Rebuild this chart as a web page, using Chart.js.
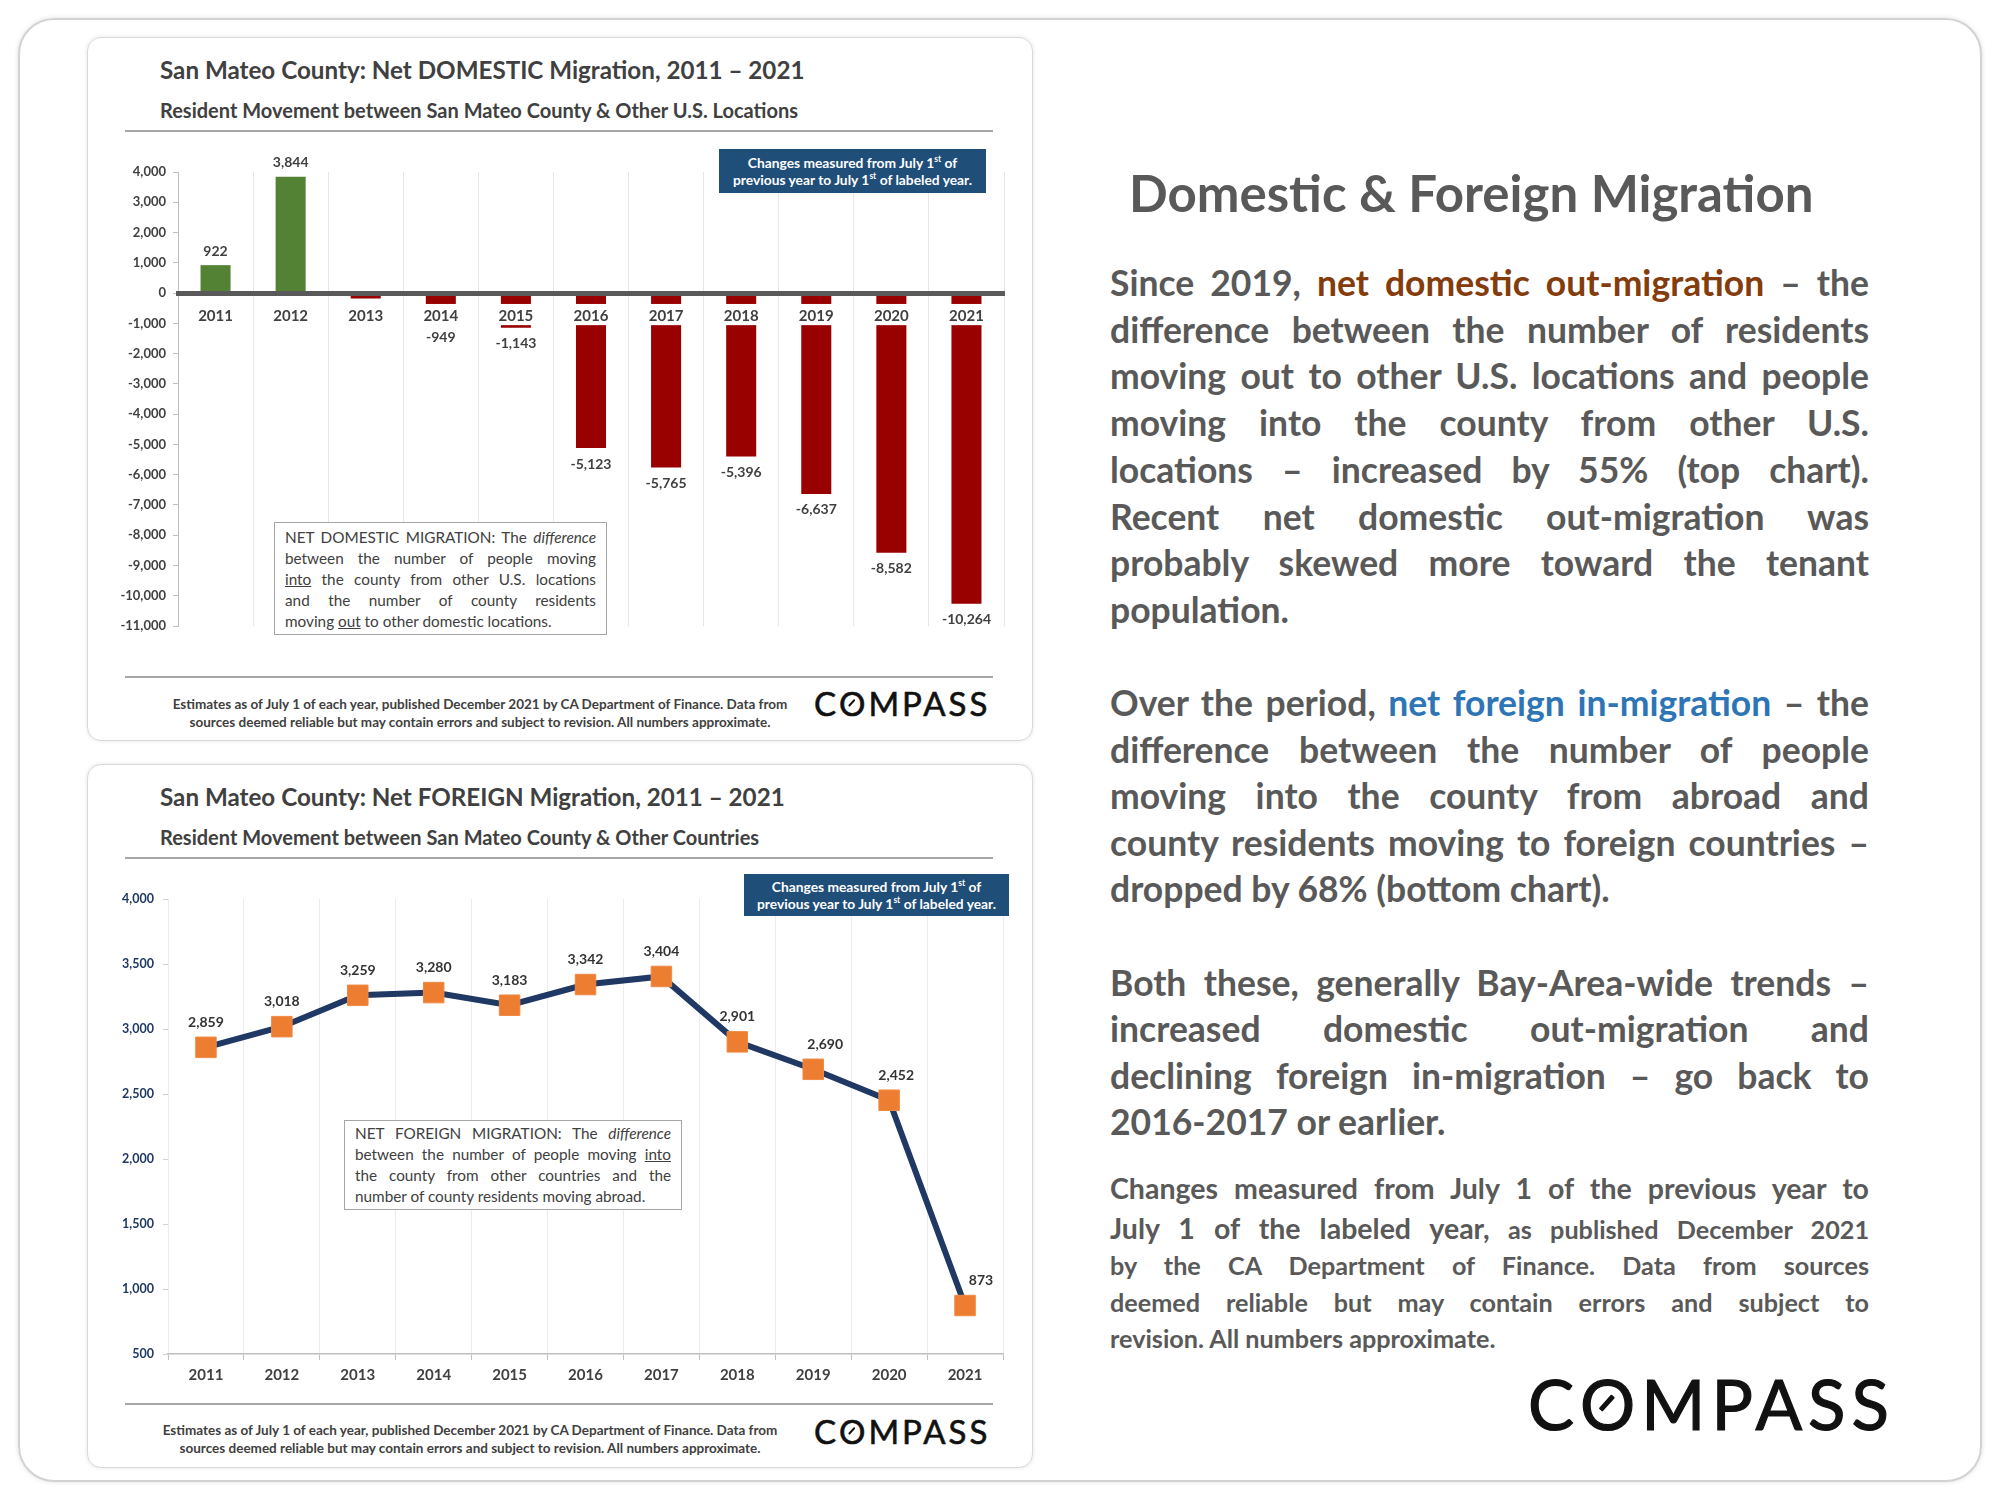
<!DOCTYPE html>
<html>
<head>
<meta charset="utf-8">
<title>San Mateo County: Domestic & Foreign Migration</title>
<script src="https://cdn.jsdelivr.net/npm/chart.js@4.4.1/dist/chart.umd.min.js"></script>
<style>
  body { margin: 0; background: #fff; font-family: Lato, "Open Sans", sans-serif; }
  #page { position: relative; width: 2000px; height: 1500px; overflow: hidden; background: #fff; }
  .frame { position: absolute; left: 18px; top: 18px; width: 1964px; height: 1464px; border: 2px solid #d2d2d2;
           border-radius: 36px; box-shadow: 0 0 5px rgba(0,0,0,0.12); box-sizing: border-box; }
  .panel { position: absolute; left: 87px; width: 946px; height: 704px; border: 1.5px solid #d9d9d9; border-radius: 14px;
           box-shadow: 0 0 4px rgba(0,0,0,0.10); box-sizing: border-box; background: #fff; }
  .ttl { position: absolute; left: 160px; font-weight: 700; font-size: 24.2px; line-height: 30px; color: #404040; white-space: nowrap; }
  .sub { position: absolute; left: 160px; font-weight: 700; font-size: 20px; line-height: 24px; color: #404040; white-space: nowrap; }
  .rule { position: absolute; left: 125px; width: 868px; height: 2px; background: #a6a6a6; }
  .foot { position: absolute; width: 700px; text-align: center; font-size: 13.5px; font-weight: 700; line-height: 18px; color: #404040; white-space: nowrap; }
  .logo { position: absolute; font-weight: 400; line-height: 1.2; color: #111; white-space: nowrap; }
  .logo .o { position: relative; display: inline-block; }
  .logo .o::after { content: ""; position: absolute; left: 50%; top: 50%; width: 0.28em; height: 0.075em; background: #111;
                    transform: translate(-50%, -50%) rotate(-48deg); margin-left: -0.06em; margin-top: -0.02em; border-radius: 1px; }
  .info { position: absolute; background: #1F4E79; color: #fff; font-weight: 700; font-size: 13.8px; line-height: 17px;
          text-align: center; padding-top: 5px; box-sizing: border-box; z-index: 5; white-space: nowrap; }
  .info sup { font-size: 8.5px; line-height: 0; }
  .note { position: absolute; border: 1.5px solid #a6a6a6; background: #fff; color: #404040; font-size: 15.3px; line-height: 21px;
          padding: 0 10px; box-sizing: border-box; z-index: 5; }
  .note div, .txt div { text-align: justify; text-align-last: justify; }
  .note div.last, .txt div.last { text-align-last: left; }
  .chartbox { position: absolute; z-index: 2; }
  .txt { position: absolute; left: 1110px; width: 759px; font-weight: 700; color: #595959; }
  .big { font-size: 35.5px; }
  .brown { color: #843C0C; }
  .blue { color: #2E75B6; }
  .head { position: absolute; left: 1129px; top: 163px; font-size: 51px; line-height: 60px; font-weight: 700; color: #595959; white-space: nowrap; }
</style>
</head>
<body>
<div id="page">
  <div class="frame"></div>

  <!-- top panel: domestic -->
  <div class="panel" style="top:37px;"></div>
  <div class="ttl" style="top:55px;">San Mateo County: Net DOMESTIC Migration, 2011 – 2021</div>
  <div class="sub" style="top:98px;">Resident Movement between San Mateo County &amp; Other U.S. Locations</div>
  <div class="rule" style="top:130px;"></div>
  <div class="chartbox" style="left:110px; top:140px;"><canvas id="domChart" width="915" height="505"></canvas></div>
  <div class="info" style="left:719px; top:149px; width:267px; height:44px;">
    Changes measured from July 1<sup>st</sup> of<br>previous year to July 1<sup>st</sup> of labeled year.
  </div>
  <div class="note" style="left:274px; top:522px; width:333px; height:113px; padding-top:4px;">
    <div>NET DOMESTIC MIGRATION: The <i>difference</i></div>
    <div>between the number of people moving</div>
    <div><u>into</u> the county from other U.S. locations</div>
    <div>and the number of county residents</div>
    <div class="last">moving <u>out</u> to other domestic locations.</div>
  </div>
  <div class="rule" style="top:676px;"></div>
  <div class="foot" style="left:130px; top:695px;">Estimates as of July 1 of each year, published December 2021 by CA Department of Finance. Data from<br>sources deemed reliable but may contain errors and subject to revision. All numbers approximate.</div>
  <div class="logo" style="left:814px; top:684px; font-size:33px; letter-spacing:3px; -webkit-text-stroke:0.6px #111;">C<span class="o">O</span>MPASS</div>

  <!-- bottom panel: foreign -->
  <div class="panel" style="top:764px;"></div>
  <div class="ttl" style="top:782px;">San Mateo County: Net FOREIGN Migration, 2011 – 2021</div>
  <div class="sub" style="top:825px;">Resident Movement between San Mateo County &amp; Other Countries</div>
  <div class="rule" style="top:857px;"></div>
  <div class="chartbox" style="left:95px; top:880px;"><canvas id="forChart" width="930" height="520"></canvas></div>
  <div class="info" style="left:744px; top:874px; width:265px; height:42px; padding-top:4px;">
    Changes measured from July 1<sup>st</sup> of<br>previous year to July 1<sup>st</sup> of labeled year.
  </div>
  <div class="note" style="left:344px; top:1120px; width:338px; height:90px; padding-top:2px;">
    <div>NET FOREIGN MIGRATION: The <i>difference</i></div>
    <div>between the number of people moving <u>into</u></div>
    <div>the county from other countries and the</div>
    <div class="last">number of county residents moving abroad.</div>
  </div>
  <div class="rule" style="top:1403px;"></div>
  <div class="foot" style="left:120px; top:1421px;">Estimates as of July 1 of each year, published December 2021 by CA Department of Finance. Data from<br>sources deemed reliable but may contain errors and subject to revision. All numbers approximate.</div>
  <div class="logo" style="left:814px; top:1412px; font-size:33px; letter-spacing:3px; -webkit-text-stroke:0.6px #111;">C<span class="o">O</span>MPASS</div>

  <!-- right column text -->
  <div class="head">Domestic &amp; Foreign Migration</div>
  <div class="txt big" style="top:260px; line-height:46.7px;">
    <div>Since 2019, <span class="brown">net domestic out-migration</span> – the</div>
    <div>difference between the number of residents</div>
    <div>moving out to other U.S. locations and people</div>
    <div>moving into the county from other U.S.</div>
    <div>locations – increased by 55% (top chart).</div>
    <div>Recent net domestic out-migration was</div>
    <div>probably skewed more toward the tenant</div>
    <div class="last">population.</div>
  </div>
  <div class="txt big" style="top:680px; line-height:46.5px;">
    <div>Over the period, <span class="blue">net foreign in-migration</span> – the</div>
    <div>difference between the number of people</div>
    <div>moving into the county from abroad and</div>
    <div>county residents moving to foreign countries –</div>
    <div class="last">dropped by 68% (bottom chart).</div>
  </div>
  <div class="txt big" style="top:960px; line-height:46.3px;">
    <div>Both these, generally Bay-Area-wide trends –</div>
    <div>increased domestic out-migration and</div>
    <div>declining foreign in-migration – go back to</div>
    <div class="last">2016-2017 or earlier.</div>
  </div>
  <div class="txt" style="top:1170px; font-size:28.5px; line-height:36px;">
    <div>Changes measured from July 1 of the previous year to</div>
  </div>
  <div class="txt" style="top:1210px; font-size:28.5px; line-height:36px;">
    <div>July 1 of the labeled year,<span style="font-size:25.2px;"> as published December 2021</span></div>
  </div>
  <div class="txt" style="top:1247px; font-size:25.2px; line-height:36.5px;">
    <div>by the CA Department of Finance. Data from sources</div>
    <div>deemed reliable but may contain errors and subject to</div>
    <div class="last">revision. All numbers approximate.</div>
  </div>
  <div class="logo" style="left:1528px; top:1363px; font-size:69px; letter-spacing:6px; -webkit-text-stroke:1.2px #111;">C<span class="o">O</span>MPASS</div>
</div>

<script>
// data
const years = ['2011', '2012', '2013', '2014', '2015', '2016', '2017', '2018', '2019', '2020', '2021'];
const domesticValues = [922, 3844, -180, -949, -1143, -5123, -5765, -5396, -6637, -8582, -10264];
const domesticTicks = [4000, 3000, 2000, 1000, 0, -1000, -2000, -3000, -4000, -5000, -6000, -7000, -8000, -9000, -10000, -11000];
const foreignValues = [2859, 3018, 3259, 3280, 3183, 3342, 3404, 2901, 2690, 2452, 873];
const foreignTicks = [500, 1000, 1500, 2000, 2500, 3000, 3500, 4000];

// label nudges for the last few foreign points (pixels)
const foreignLabelShift = [0, 0, 0, 0, 0, 0, 0, 0, 12, 7, 16];

const GREEN = '#548235';
const RED = '#990000';
const NAVY = '#1F3864';
const ORANGE = '#ED7D31';

Chart.defaults.font.family = 'Lato, "Open Sans", sans-serif';
Chart.defaults.color = '#404040';

const fmt = v => v.toLocaleString('en-US');

// white band behind the year labels plus value labels on the bars
const domesticLabels = {
  id: 'domesticLabels',
  afterDatasetsDraw(chart) {
    const ctx = chart.ctx;
    const y = chart.scales.y;
    const meta = chart.getDatasetMeta(0);
    const bandTop = y.getPixelForValue(-360);
    const bandBot = y.getPixelForValue(-1060);
    ctx.save();
    meta.data.forEach((bar, i) => {
      const v = domesticValues[i];
      if (v < 0) {
        ctx.fillStyle = '#fff';
        ctx.fillRect(bar.x - bar.width / 2 - 2, bandTop, bar.width + 4, bandBot - bandTop);
      }
    });
    ctx.font = 'bold 14px Lato';
    ctx.fillStyle = '#404040';
    ctx.textAlign = 'center';
    ctx.textBaseline = 'middle';
    meta.data.forEach((bar, i) => {
      const v = domesticValues[i];
      if (Math.abs(v) < 300) return;
      const ty = v >= 0 ? bar.y - 14 : bar.y + 16;
      ctx.fillText(fmt(v), bar.x, ty);
    });
    ctx.restore();
  }
};

new Chart(document.getElementById('domChart'), {
  type: 'bar',
  data: {
    labels: years,
    datasets: [{
      label: 'Net domestic migration',
      data: domesticValues,
      backgroundColor: domesticValues.map(v => v >= 0 ? GREEN : RED),
      barPercentage: 0.4,
      categoryPercentage: 1
    }]
  },
  options: {
    responsive: false,
    animation: false,
    layout: { padding: { top: 32, bottom: 19, right: 21, left: 0 } },
    plugins: { legend: { display: false }, tooltip: { enabled: false } },
    scales: {
      x: {
        position: { y: 0 },
        grid: { color: '#e6e6e6', drawTicks: false, offset: true },
        border: { color: '#595959', width: 5, z: 1 },
        ticks: { z: 1, padding: 14, font: { size: 15, weight: 'bold' }, color: '#404040' }
      },
      y: {
        min: -11000,
        max: 4000,
        afterBuildTicks: scale => { scale.ticks = domesticTicks.map(v => ({ value: v })); },
        afterFit: scale => { scale.width = 68; },
        grid: { drawOnChartArea: false, drawTicks: true, tickLength: 5, color: '#bfbfbf' },
        border: { color: '#bfbfbf', width: 1 },
        ticks: { padding: 7, font: { size: 13, weight: 'bold' }, color: '#404040', callback: v => fmt(v) }
      }
    }
  },
  plugins: [domesticLabels]
});

const foreignLabels = {
  id: 'foreignLabels',
  afterDatasetsDraw(chart) {
    const ctx = chart.ctx;
    const meta = chart.getDatasetMeta(0);
    ctx.save();
    ctx.font = 'bold 14px Lato';
    ctx.fillStyle = '#333';
    ctx.textAlign = 'center';
    ctx.textBaseline = 'middle';
    meta.data.forEach((pt, i) => {
      ctx.fillText(fmt(foreignValues[i]), pt.x + foreignLabelShift[i], pt.y - 25);
    });
    ctx.restore();
  }
};

new Chart(document.getElementById('forChart'), {
  type: 'line',
  data: {
    labels: years,
    datasets: [{
      label: 'Net foreign migration',
      data: foreignValues,
      borderColor: NAVY,
      borderWidth: 6,
      tension: 0,
      pointStyle: 'rect',
      pointRadius: 14.5,
      pointBackgroundColor: ORANGE,
      pointBorderColor: '#F08A45',
      pointBorderWidth: 1
    }]
  },
  options: {
    responsive: false,
    animation: false,
    layout: { padding: { top: 19, bottom: 0, right: 22, left: 0 } },
    plugins: { legend: { display: false }, tooltip: { enabled: false } },
    scales: {
      x: {
        offset: true,
        afterFit: scale => { scale.height = 46; },
        grid: { color: '#ececec', offset: true, drawTicks: true, tickLength: 6, tickColor: '#bfbfbf' },
        border: { color: '#bfbfbf', width: 1.5 },
        ticks: { padding: 6, font: { size: 15, weight: 'bold' }, color: '#404040' }
      },
      y: {
        min: 500,
        max: 4000,
        afterBuildTicks: scale => { scale.ticks = foreignTicks.map(v => ({ value: v })); },
        afterFit: scale => { scale.width = 73; },
        grid: { drawOnChartArea: false, drawTicks: true, tickLength: 5, color: '#d0d0d0' },
        border: { display: false },
        ticks: { padding: 9, font: { size: 12.5, weight: 'bold' }, color: NAVY, callback: v => fmt(v) }
      }
    }
  },
  plugins: [foreignLabels]
});
</script>
</body>
</html>
